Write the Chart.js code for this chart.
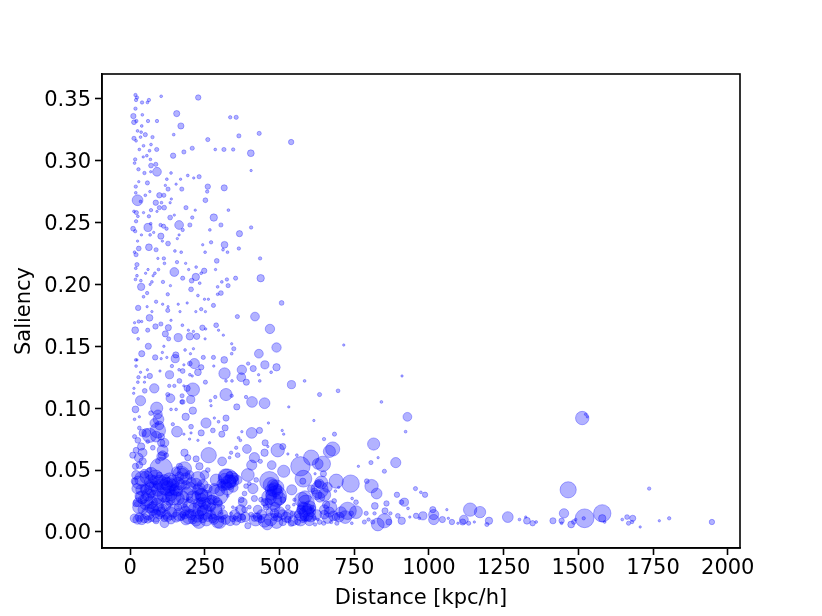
<!DOCTYPE html>
<html>
<head>
<meta charset="utf-8">
<script src="https://cdn.jsdelivr.net/npm/chart.js@4"></script>
<style>
    body { margin: 0; background: #fff; }
</style>
</head>
<body>
<canvas id="chart" width="822" height="616"></canvas>
<script>
const xTicks = [0, 250, 500, 750, 1000, 1250, 1500, 1750, 2000];
const yTicks = [0, 0.05, 0.1, 0.15, 0.2, 0.25, 0.3, 0.35];

const distance = [
    18,23,20,40,58,63,104,228,18,11,
    13,21,41,60,90,156,39,170,335,355,
    25,37,35,51,13,20,75,146,260,364,
    432,539,45,70,31,65,89,208,180,285,
    314,345,404,144,44,56,17,15,68,28,
    70,86,90,405,48,69,137,193,231,213,
    123,169,29,58,118,154,260,19,127,173,
    315,258,66,19,98,113,51,25,35,86,
    105,138,134,252,98,114,187,70,329,218,
    13,21,45,90,148,63,134,280,208,26,
    20,69,164,60,102,112,200,304,405,10,
    17,122,176,267,38,67,79,103,366,164,
    158,25,108,127,271,316,243,

    63,29,87,15,20,150,171,251,311,326,
    364,113,93,290,435,157,186,115,23,19,
    60,95,221,286,148,196,248,238,52,83,
    23,77,220,176,206,233,353,324,437,307,
    18,36,73,110,37,67,135,293,328,204,
    57,126,45,304,293,227,87,249,262,279,
    109,161,191,127,27,57,507,238,220,126,
    73,167,252,65,359,418,15,29,137,39,
    85,103,288,175,468,17,59,128,242,195,
    253,296,118,212,200,223,161,312,27,129,
    251,340,61,347,490,113,184,212,431,39,
    153,202,340,84,108,151,104,123,245,279,
    315,19,23,215,200,451,395,20,238,140,
    180,412,490,374,280,58,35,100,176,164,
    227,316,472,132,200,66,28,50,372,430,
    208,165,26,48,252,321,341,389,434,540,
    584,131,148,13,81,180,210,191,49,12,
    174,634,126,135,321,285,340,388,35,203,
    269,173,408,450,271,531,357,

    18,89,95,93,65,42,15,37,9,109,
    104,109,29,18,20,42,31,15,157,143,
    137,154,186,210,176,254,238,277,204,307,
    321,282,296,318,266,227,180,199,204,182,
    193,221,263,308,338,333,355,360,391,374,
    363,369,407,433,463,509,514,452,450,494,
    511,461,528,416,436,407,394,474,514,570,
    606,628,580,578,558,615,232,104,70,165,
    182,171,132,115,165,227,249,260,327,333,
    360,466,483,489,472,23,48,70,59,93,
    126,160,148,187,227,238,282,293,327,377,
    383,411,416,541,26,42,76,98,121,132,
    160,182,227,238,254,271,288,299,344,355,
    338,427,450,483,500,522,550,548,589,584,
    572,595,611,634,606,617,634,25,39,59,
    115,87,154,196,221,243,293,316,355,372,
    394,416,433,459,483,511,539,578,619,176,
    204,271,76,109,126,193,305,416,199,109,

    841,928,684,649,922,678,667,815,645,806,
    830,889,764,851,647,619,690,738,792,808,
    825,955,973,987,628,634,698,687,743,756,
    893,918,908,683,656,819,858,930,853,1060,
    1138,1171,1013,1016,728,756,706,667,650,661,
    689,740,790,818,871,896,957,980,968,1264,
    1303,1045,1065,1016,1117,1113,1152,1077,1133,1201,
    1194,829,851,866,909,936,784,798,812,648,
    628,742,692,673,1097,617,

    1513,1524,1530,1466,1737,1452,1580,1521,1518,1580,
    1588,1324,1328,1347,1359,1415,1444,1444,1476,1485,
    1491,1647,1663,1682,1680,1668,1707,1771,1804,1947,
    715,910,696,

    121,143,154,137,171,132,154,176,187,199,
    221,232,243,238,254,221,260,249,316,344,
    321,349,333,305,478,494,472,494,578,595,
    572,606,584,561,76,87,65,109,98,182,
    187,210,199,232,171,37,31,54,70,81,
    65,93,42,20,15,31,48,70,126,137,
    115,260,277,305,344,360,377,405,427,438,
    494,528,561,288,293,310,271,288,383,399,
    372,388,399,422,438,455,466,511,528,544,
    70,93,81,98,87,104,54,31,26,20,
    42,31,48,15,104,93,115,121,59,76,
    65,81,98,

    28,40,55,70,85,100,115,130,145,160,
    40,55,70,85,100,115,130,145,160,175,
    30,50,90,120,145,175,60,85,105,135,
    165,185,200,205,190,210,200,215,225,240,
    320,330,340,325,345,310,300,465,480,490,
    470,500,460,485,575,590,570,600,585,605,
    640,650,635,660,625,235,250,265,240,275,
    255,230,290,280,310,320,300,335,350,370,
    385,420,440,450,470,490,510,530,545,600,
    625,650,670,680,700,720,
];

const saliency = [
    0.353,0.351,0.349,0.347,0.347,0.349,0.352,0.351,0.342,0.336,
    0.331,0.332,0.337,0.332,0.332,0.338,0.328,0.328,0.335,0.335,
    0.324,0.323,0.319,0.321,0.318,0.316,0.319,0.321,0.317,0.320,
    0.322,0.315,0.312,0.313,0.309,0.308,0.309,0.310,0.307,0.309,
    0.309,0.309,0.306,0.304,0.303,0.304,0.301,0.298,0.301,0.293,
    0.296,0.297,0.291,0.292,0.290,0.291,0.290,0.288,0.287,0.286,
    0.285,0.285,0.283,0.282,0.280,0.281,0.279,0.279,0.277,0.277,
    0.278,0.275,0.275,0.274,0.272,0.272,0.272,0.268,0.267,0.266,
    0.266,0.269,0.266,0.268,0.262,0.262,0.262,0.260,0.260,0.260,
    0.259,0.258,0.258,0.259,0.256,0.255,0.254,0.254,0.254,0.255,
    0.251,0.249,0.248,0.246,0.248,0.247,0.248,0.248,0.246,0.245,
    0.243,0.245,0.244,0.244,0.240,0.240,0.242,0.239,0.241,0.240,
    0.237,0.235,0.235,0.233,0.234,0.232,0.232,

    0.230,0.229,0.228,0.226,0.224,0.227,0.226,0.226,0.228,0.226,
    0.229,0.221,0.221,0.219,0.221,0.218,0.217,0.217,0.216,0.213,
    0.212,0.212,0.214,0.212,0.210,0.212,0.211,0.209,0.209,0.209,
    0.207,0.207,0.206,0.205,0.203,0.201,0.205,0.204,0.205,0.202,
    0.204,0.203,0.202,0.202,0.198,0.200,0.199,0.198,0.199,0.196,
    0.193,0.192,0.190,0.193,0.192,0.191,0.186,0.188,0.188,0.183,
    0.184,0.184,0.185,0.182,0.181,0.182,0.185,0.180,0.178,0.179,
    0.178,0.178,0.178,0.173,0.174,0.174,0.169,0.170,0.171,0.170,
    0.166,0.168,0.167,0.167,0.164,0.163,0.163,0.165,0.165,0.163,
    0.164,0.163,0.160,0.162,0.158,0.158,0.157,0.159,0.156,0.156,
    0.156,0.152,0.150,0.148,0.149,0.150,0.147,0.148,0.144,0.144,
    0.143,0.144,0.144,0.141,0.145,0.140,0.140,0.141,0.141,0.141,
    0.139,0.139,0.139,0.136,0.136,0.135,0.136,0.134,0.133,0.134,
    0.135,0.132,0.133,0.131,0.134,0.131,0.129,0.130,0.130,0.131,
    0.129,0.128,0.129,0.127,0.127,0.126,0.125,0.125,0.125,0.127,
    0.126,0.122,0.121,0.121,0.121,0.122,0.122,0.121,0.122,0.119,
    0.122,0.118,0.118,0.116,0.116,0.118,0.115,0.116,0.114,0.112,
    0.110,0.111,0.111,0.108,0.111,0.109,0.110,0.109,0.106,0.107,
    0.106,0.105,0.105,0.104,0.102,0.101,0.101,

    0.099,0.100,0.091,0.082,0.078,0.080,0.077,0.069,0.062,0.066,
    0.072,0.062,0.060,0.053,0.046,0.057,0.093,0.091,0.081,0.087,
    0.099,0.099,0.093,0.098,0.105,0.088,0.080,0.082,0.085,0.079,
    0.092,0.092,0.089,0.084,0.072,0.074,0.079,0.075,0.080,0.064,
    0.060,0.059,0.062,0.057,0.064,0.060,0.068,0.062,0.067,0.081,
    0.076,0.074,0.080,0.082,0.088,0.082,0.079,0.072,0.064,0.066,
    0.069,0.069,0.063,0.060,0.057,0.054,0.046,0.054,0.049,0.053,
    0.060,0.055,0.043,0.041,0.062,0.090,0.053,0.051,0.047,0.053,
    0.051,0.046,0.042,0.042,0.045,0.043,0.046,0.050,0.043,0.041,
    0.042,0.041,0.034,0.029,0.030,0.035,0.035,0.035,0.030,0.034,
    0.035,0.033,0.034,0.038,0.034,0.030,0.035,0.030,0.029,0.024,
    0.031,0.035,0.027,0.034,0.024,0.018,0.018,0.018,0.014,0.023,
    0.020,0.020,0.023,0.024,0.020,0.020,0.018,0.023,0.020,0.019,
    0.015,0.018,0.024,0.015,0.016,0.012,0.026,0.022,0.023,0.018,
    0.014,0.012,0.019,0.039,0.035,0.033,0.008,0.010,0.010,0.010,
    0.007,0.009,0.012,0.012,0.009,0.011,0.008,0.012,0.009,0.011,
    0.005,0.011,0.012,0.006,0.012,0.008,0.007,0.010,0.006,0.014,
    0.014,0.014,0.024,0.026,0.026,0.026,0.015,0.012,0.026,0.012,

    0.105,0.093,0.079,0.075,0.081,0.067,0.065,0.071,0.055,0.056,
    0.060,0.056,0.053,0.049,0.047,0.047,0.041,0.039,0.041,0.037,
    0.031,0.035,0.032,0.030,0.039,0.034,0.036,0.033,0.027,0.024,
    0.030,0.024,0.024,0.025,0.022,0.021,0.023,0.019,0.017,0.018,
    0.018,0.016,0.018,0.014,0.017,0.016,0.016,0.016,0.014,0.011,
    0.012,0.015,0.015,0.015,0.015,0.013,0.013,0.013,0.011,0.012,
    0.010,0.010,0.011,0.010,0.010,0.008,0.008,0.008,0.007,0.009,
    0.006,0.006,0.009,0.008,0.009,0.012,0.008,0.010,0.008,0.007,
    0.010,0.007,0.007,0.008,0.007,0.011,

    0.092,0.095,0.093,0.034,0.035,0.015,0.015,0.011,0.011,0.011,
    0.008,0.012,0.009,0.007,0.008,0.009,0.009,0.007,0.006,0.008,
    0.010,0.010,0.012,0.011,0.008,0.007,0.004,0.009,0.011,0.008,
    0.151,0.126,0.114,

    0.039,0.038,0.034,0.030,0.038,0.033,0.049,0.047,0.043,0.046,
    0.039,0.035,0.038,0.027,0.029,0.029,0.035,0.023,0.043,0.041,
    0.038,0.044,0.046,0.039,0.038,0.035,0.034,0.031,0.020,0.018,
    0.018,0.016,0.012,0.014,0.020,0.015,0.019,0.019,0.014,0.014,
    0.010,0.010,0.015,0.014,0.012,0.034,0.029,0.034,0.031,0.037,
    0.038,0.038,0.026,0.023,0.011,0.012,0.011,0.011,0.012,0.010,
    0.011,0.012,0.011,0.010,0.011,0.012,0.012,0.014,0.012,0.010,
    0.012,0.010,0.008,0.042,0.024,0.020,0.026,0.026,0.018,0.020,
    0.026,0.037,0.039,0.042,0.026,0.020,0.016,0.026,0.020,0.015,
    0.096,0.095,0.088,0.086,0.077,0.077,0.080,0.084,0.074,0.066,
    0.064,0.054,0.047,0.041,0.061,0.057,0.072,0.062,0.073,0.068,
    0.050,0.042,0.046,

    0.040,0.043,0.044,0.041,0.044,0.040,0.036,0.038,0.041,0.039,
    0.028,0.026,0.024,0.028,0.028,0.030,0.027,0.028,0.027,0.028,
    0.020,0.022,0.022,0.021,0.017,0.023,0.015,0.013,0.016,0.015,
    0.014,0.017,0.035,0.040,0.031,0.028,0.021,0.018,0.013,0.017,
    0.045,0.040,0.044,0.035,0.036,0.037,0.033,0.028,0.025,0.036,
    0.038,0.027,0.023,0.020,0.026,0.015,0.010,0.020,0.028,0.012,
    0.040,0.030,0.028,0.036,0.030,0.019,0.016,0.022,0.030,0.026,
    0.010,0.008,0.015,0.010,0.014,0.010,0.008,0.009,0.014,0.018,
    0.012,0.010,0.014,0.009,0.010,0.008,0.014,0.014,0.009,0.009,
    0.014,0.018,0.020,0.013,0.012,0.012,
];

const radius = [
    1.3,1.3,1.3,1.3,1,1.3,1,2.3,1.3,2.3,
    2,1.3,1,1.3,1.3,2.7,1,2.7,1.3,1.7,
    1,1,1,1.7,1.7,1,1.3,1,1.7,1.7,
    1.7,2.3,1,1,1,1,1.7,1.7,1.7,1,
    1.7,1.3,3,2.3,0.8,1,1.3,1,1,1.3,
    2,1.7,4,0.8,1.3,0.8,1,1,1.7,0.8,
    1,0.8,0.8,1.7,0.8,0.8,2.3,1.3,1.7,1.7,
    2.7,1.3,0.8,1,2.3,1.7,1,5,1,2.3,
    1,0.8,0.8,2,1.7,2,1.7,1.3,1,0.8,
    1,1.7,0.8,0.8,0.8,1.3,2,3.3,1.3,1,
    1.3,1,4,3.7,1.3,1.7,1.7,1.7,1.3,2,
    1.3,1.3,1.3,1,0.8,1,0.8,2.7,2.7,0.8,
    0.8,0.8,0.8,2,1.3,3,0.8,

    3,2,1.7,1,1.7,1,1,1,1,1,
    1.3,1.3,0.8,2,1.3,1.3,0.8,1,1.7,1,
    0.8,1,1,0.8,4,0.8,2.3,1,0.8,1,
    1,0.8,3.3,1.7,2,1,1.7,1.3,3.3,1,
    1,1,1,1.3,3.3,0.8,0.8,1,1.7,2,
    1.3,1.3,1,2,1,1,1.3,0.8,0.8,1.7,
    0.8,0.8,0.8,0.8,2.3,0.8,2,1.3,0.8,1.7,
    0.8,0.8,0.8,3,1.7,4,0.8,1.3,0.8,0.8,
    2.3,1.7,2,1,4.3,3,1.7,2.7,2.3,0.8,
    0.8,0.8,2.7,0.8,3.3,2.7,3.7,0.8,1,1.7,
    0.8,0.8,2.7,1.7,4.3,0.8,1,0.8,4,2.7,
    2.7,0.8,1,2.3,0.8,3.7,0.8,0.8,1.7,1.7,
    3,1,0.8,4.7,2,3.7,1.3,1,2.3,1.3,
    0.8,2.7,3.3,4.3,0.8,0.8,0.8,0.8,2,1,
    3,5.3,1,3.7,1,2.3,1.3,0.8,4,0.8,
    0.8,2,1,0.8,1.7,1,1,2.7,1,3.7,
    1,1.3,1.3,0.8,4.3,0.8,6.3,2.7,2,0.8,
    1.7,1.7,1.7,4,5.7,1.3,1.3,1.3,4.7,3.7,
    1,1.7,5,5,0.8,0.8,2.7,

    3,5.7,5,7.3,6.7,3.3,1.7,3.3,2.7,5,
    3.3,4,4,2.7,4,3.3,0.8,1,5,1.3,
    1,1,3.3,3.3,2,4.7,2.7,2,2,2.7,
    2.7,0.8,1,2.7,0.8,0.8,0.8,0.8,0.8,3.3,
    2.7,2.7,7.3,4,1.3,1,1.3,2,4,0.8,
    1,1,5,2.7,0.8,0.8,0.8,2.7,3.3,6.3,
    2.7,0.8,0.8,4.7,1.7,4.7,6,4,5.7,9.3,
    7.3,5,8,2.7,1,0.8,3.3,11,6,2.7,
    6.7,8.3,6.7,5,4,6.7,4,2,9.3,6,
    4,9.3,6.7,10,5,4.7,4,6,5.7,6,
    7.3,4.7,4.7,4,5,6,4.7,10,1,4,
    2,4.7,2.7,4.7,4,4.3,5.3,5.3,3.7,2.7,
    3.3,2.7,4.7,4.3,5,4,5.3,2.7,1,1,
    1,4,3.3,4,5,4.7,1.3,1,8,6.7,
    6,4,2.7,4,3.3,2.7,2,4.3,4.7,3.3,
    4,2.7,4.7,6.3,5,4,5.7,1.3,4,4,
    2.7,2.7,2,5,3.3,3.3,2.7,2.7,1.3,2.7,
    4.7,4,0.8,1.3,2,1,0.8,1,2.7,1.3,

    1,4,1.7,1.3,1,6.7,5.7,5.7,7.3,1.7,
    0.8,4.7,0.8,1.7,2.7,0.8,6.7,8.3,2,6.3,
    5,1.7,1,2.3,3.3,8.3,0.8,1,1,2,
    2.3,3.7,2,2,3.3,3,2.3,1,2.7,0.8,
    6.3,5.3,2.7,4.7,8.3,6,5,4.7,4,4.7,
    3.3,2,1.7,1.3,1.3,2,2.3,3.7,1,5,
    1,2.7,0.8,4.7,4,2.7,0.8,2.3,1.7,3.3,
    1.7,6,6.7,2.7,3.3,0.8,1.7,1.3,1.7,1.7,
    1,1,1.7,1.3,0.8,1.7,

    6.3,0.8,0.8,7.7,1.3,4.3,8.3,9,1.3,3.3,
    1,0.8,3,2.3,1,2.7,2.3,1,3,2,
    1,1,2,2.7,1.3,1.7,0.8,0.8,1.3,2.3,
    0.8,0.8,1.5,

    6,5.5,6,5.5,5,4.5,4,5,5.5,4,
    5,5.5,5,5,5.5,4,4,5.5,5,5.5,
    5,4,3,4,5,4,5.5,5,5,5.5,
    4,4,4,3,5,4,4,4,4,4,
    5,4,4,4,3,5,4,5,4,5,
    4,4,4,3,4,4,4,3,4,4,
    3,4,4,2.5,3,4,2.5,2,4,3,
    4,3,2.5,5.5,4,1.5,4,3,2.5,1.5,
    2.5,2,1.5,2,2,2.5,3,2.5,2,2,
    2,4,4,4,5,3,4,1.5,2.5,2.5,
    4,3,4,3,4,2,4,2,1.5,2,
    2,4,2.5,

    6,7,6,6,7,7,7,7,6,6,
    6,6,6,7,6,7,6,7,6,6,
    6,4.5,6,4.5,6,4.5,6,6,4.5,6,
    6,4.5,6,4.5,6,6,6,6,6,4.5,
    7,7,6,6,4.5,4.5,4.5,7,8,7,
    7,6,4.5,4.5,7,7,6,6,6,4.5,
    6,6,4.5,4.5,4.5,7,7,6,6,4.5,
    6,6,6,4.5,4.5,4.5,6,4.5,4.5,4.5,
    4.5,6,4.5,6,6,6,4.5,4.5,4.5,4.5,
    4.5,4.5,6,4.5,4.5,6,
];

const points = distance.map((d, i) => ({ x: d, y: saliency[i], r: radius[i] + 0.4 }));

const data = {
    datasets: [
        {
            data: points,
            backgroundColor: "rgba(0, 0, 255, 0.3)",
            borderColor: "rgba(0, 0, 255, 0.3)",
            borderWidth: 1,
        },
    ],
};

const textFont = { family: "'DejaVu Sans'", size: 21 };

// full box round the plot, the axes only give left and bottom
const frame = {
    id: "frame",
    afterDraw(chart) {
        const { ctx, chartArea: a } = chart;
        ctx.save();
        ctx.strokeStyle = "#000";
        ctx.lineWidth = 1.6;
        ctx.strokeRect(a.left, a.top, a.right - a.left, a.bottom - a.top);
        ctx.restore();
    },
};

const config = {
    type: "bubble",
    data: data,
    plugins: [frame],
    options: {
        responsive: false,
        animation: false,
        layout: { padding: { left: 0, right: 82, top: 74, bottom: 0 } },
        plugins: { legend: { display: false }, tooltip: { enabled: false } },
        scales: {
            x: {
                type: "linear",
                min: -94,
                max: 2041,
                afterBuildTicks: (scale) => {
                    scale.ticks = xTicks.map((v) => ({ value: v }));
                },
                afterFit: (scale) => {
                    scale.height = 68;
                },
                ticks: { color: "#000", font: textFont, padding: 1, maxRotation: 0, callback: (v) => String(v) },
                grid: { drawOnChartArea: false, tickLength: 7, tickColor: "#000", tickWidth: 1.6 },
                border: { color: "#000", width: 1.6 },
                title: { display: true, text: "Distance [kpc/h]", color: "#000", font: textFont, padding: { top: 0, bottom: 5 } },
            },
            y: {
                type: "linear",
                min: -0.013,
                max: 0.37,
                afterBuildTicks: (scale) => {
                    scale.ticks = yTicks.map((v) => ({ value: v }));
                },
                afterFit: (scale) => {
                    scale.width = 102;
                },
                ticks: { color: "#000", font: textFont, padding: 4, labelOffset: 2, callback: (v) => v.toFixed(2) },
                grid: { drawOnChartArea: false, tickLength: 7, tickColor: "#000", tickWidth: 1.6 },
                border: { color: "#000", width: 1.6 },
                title: { display: true, text: "Saliency", color: "#000", font: textFont, padding: { top: 12, bottom: 0 } },
            },
        },
    },
};

new Chart(document.getElementById("chart"), config);
</script>
</body>
</html>
